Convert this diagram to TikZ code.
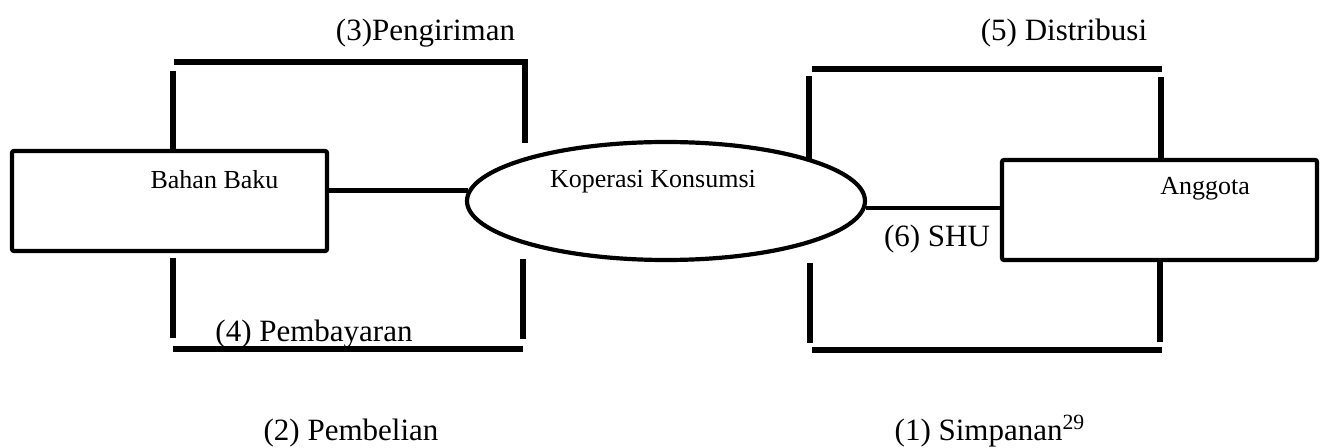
\documentclass[tikz,border=0pt]{standalone}
\usepackage{fontspec}
\setmainfont{Liberation Serif}
\usepackage{tikz}
\usetikzlibrary{positioning}
\usetikzlibrary{shapes}
\usetikzlibrary{calc}

\begin{document}
\begin{tikzpicture}[x=0.5pt,y=-0.5pt,
	box/.style={rectangle, draw, line width=2.1pt, rounded corners=1pt, inner sep=0pt, minimum width=157.5pt, minimum height=50pt},
	oval/.style={ellipse, draw, line width=2.1pt, inner sep=0pt, minimum width=199pt, minimum height=59pt},
	entity/.style={inner sep=0pt, font=\fontsize{13}{15}\selectfont},
	flow/.style={inner sep=0pt, anchor=base, font=\fontsize{15.5}{18}\selectfont},
	link/.style={draw, line width=2.2pt},
	bar/.style={draw, line width=2.7pt}]

	\useasboundingbox (0,0) rectangle (1325,448);

	% Entities
	\node[box] (bahan) at (169.5,201) {};
	\node[oval] (kop) at (666,201) {};
	\node[box] (anggota) at (1159.5,210) {};

	\node[entity] (tbahan) at (214.5,180) {Bahan Baku};
	\node[entity] (tkop) at (653,182) {Koperasi Konsumsi};
	\node[entity] (tanggota) at (1205,189) {Anggota};

	% Links
	\path[link] (kop.177.7 -| bahan.east) -- (kop.177.7);
	\path[link] (kop.-2.6) -- (kop.-2.6 -| anggota.west);

	% Pengiriman
	\coordinate (p1) at (173,71);
	\coordinate (p2) at (174,62);
	\coordinate (p3) at (525,62);
	\coordinate (p4) at (525,143);
	\path[bar] (p1) -- (p1 |- bahan.north);
	\path[bar] (p2) -- (p3) -- (p4);

	% Pembayaran
	\coordinate (q1) at (173,258);
	\coordinate (q2) at (173,338);
	\coordinate (q3) at (173,349);
	\coordinate (q4) at (523,349);
	\coordinate (q5) at (523,259);
	\coordinate (q6) at (523,339);
	\path[bar] (q1) -- (q2);
	\path[bar] (q3) -- (q4);
	\path[bar] (q5) -- (q6);

	% Distribusi
	\coordinate (d1) at (809,76);
	\coordinate (d2) at (809,160);
	\coordinate (d3) at (812,69);
	\coordinate (d4) at (1162,69);
	\coordinate (d5) at (1161,77);
	\path[bar] (d1) -- (d2);
	\path[bar] (d3) -- (d4);
	\path[bar] (d5) -- (d5 |- anggota.north);

	% Simpanan
	\coordinate (s1) at (810,263);
	\coordinate (s2) at (810,343);
	\coordinate (s3) at (812,350);
	\coordinate (s4) at (1162,350);
	\coordinate (s5) at (1160,342);
	\path[bar] (s1) -- (s2);
	\path[bar] (s3) -- (s4);
	\path[bar] (s5 |- anggota.south) -- (s5);

	% Labels
	\node[flow] (l3) at (425.5,41) {(3)Pengiriman};
	\node[flow] (l5) at (1064,41) {(5) Distribusi};
	\node[flow] (l4) at (314,341) {(4) Pembayaran};
	\node[flow] (l6) at (937,247) {(6) SHU};
	\node[flow] (l2) at (351,440) {(2) Pembelian};
	\node[flow] (l1) at (990,440) {(1) Simpanan\textsuperscript{29}};
\end{tikzpicture}
\end{document}
